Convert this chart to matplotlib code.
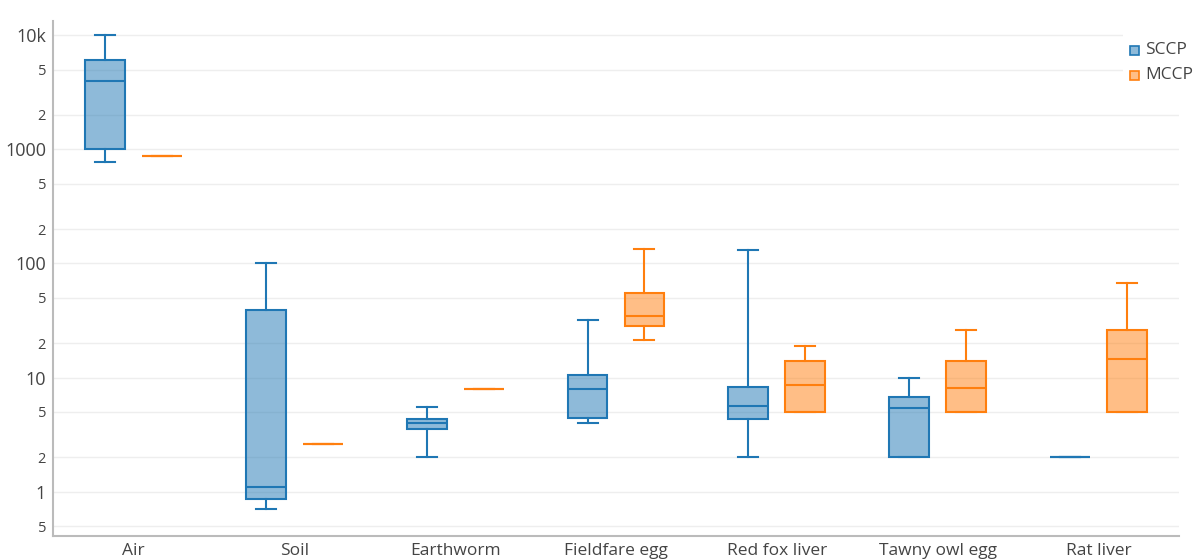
import matplotlib
matplotlib.use("Agg")
import matplotlib.pyplot as plt
from matplotlib.patches import Rectangle

plt.rcParams['font.family'] = ['Open Sans', 'DejaVu Sans']

categories = ["Air", "Soil", "Earthworm", "Fieldfare egg", "Red fox liver",
              "Tawny owl egg", "Rat liver"]

# Box statistics per category: lower whisker, Q1, median, Q3, upper whisker
sccp_low = [776, 0.706, 2.0, 4.02, 2.0, 2.0, 2.0]
sccp_q1 = [1000, 0.857, 3.51, 4.39, 4.31, 2.0, 2.0]
sccp_med = [3930, 1.1, 4.0, 7.93, 5.6, 5.37, 2.0]
sccp_q3 = [6100, 38.7, 4.36, 10.6, 8.26, 6.75, 2.0]
sccp_high = [10000, 100, 5.52, 32.1, 131, 10.0, 2.0]

mccp_low = [865, 2.62, 8.0, 21.2, 5.0, 5.0, 5.0]
mccp_q1 = [865, 2.62, 8.0, 28.1, 5.0, 5.0, 5.0]
mccp_med = [865, 2.62, 8.0, 34.6, 8.55, 8.04, 14.6]
mccp_q3 = [865, 2.62, 8.0, 55.3, 14.0, 14.1, 26.1]
mccp_high = [865, 2.62, 8.0, 133, 19.0, 26.1, 66.8]

series_names = ["SCCP", "MCCP"]
series_colors = ["#1f77b4", "#ff7f0e"]
series_fills = [(31/255, 119/255, 180/255, 0.5), (255/255, 127/255, 14/255, 0.5)]

ytick_vals = [0.5, 1, 2, 5, 10, 20, 50, 100, 200, 500, 1000, 2000, 5000, 10000]
ytick_labels = ["5", "1", "2", "5", "10", "2", "5", "100", "2", "5", "1000", "2", "5", "10k"]
major_labels = {1, 10, 100, 1000, 10000}

W, H = 1195, 560
fig = plt.figure(figsize=(W / 100, H / 100), dpi=100)
L, R, T, B = 53, 1179, 21, 536
ax = fig.add_axes([L / W, 1 - B / H, (R - L) / W, (B - T) / H])

box_w = 0.248
offset = 0.177
lw = 1.5

def make_stats(low, q1, med, q3, high):
    return [dict(whislo=a, q1=b, med=c, q3=d, whishi=e, fliers=[])
            for a, b, c, d, e in zip(low, q1, med, q3, high)]

groups = [
    make_stats(sccp_low, sccp_q1, sccp_med, sccp_q3, sccp_high),
    make_stats(mccp_low, mccp_q1, mccp_med, mccp_q3, mccp_high),
]

n = len(categories)
for k, stats in enumerate(groups):
    sign = -1 if k == 0 else 1
    pos = [i + sign * offset for i in range(n)]
    col = series_colors[k]
    ax.bxp(stats, positions=pos, widths=box_w, capwidths=box_w / 2,
           patch_artist=True, showfliers=False,
           boxprops=dict(facecolor=series_fills[k], edgecolor=col, linewidth=lw),
           medianprops=dict(color=col, linewidth=lw),
           whiskerprops=dict(color=col, linewidth=lw),
           capprops=dict(color=col, linewidth=lw),
           manage_ticks=False, zorder=3)

ax.set_yscale("log")
ax.set_ylim(10 ** -0.388, 10 ** 4.124)
ax.set_xlim(-0.5, n - 0.5)

ax.set_yticks(ytick_vals)
ax.set_yticklabels(ytick_labels)
ax.yaxis.set_minor_locator(matplotlib.ticker.NullLocator())
for lbl, v in zip(ax.get_yticklabels(), ytick_vals):
    lbl.set_fontsize(13 if v in major_labels else 10.5)
    lbl.set_color("#444444")

ax.set_xticks(range(n))
ax.set_xticklabels(categories, fontsize=12.5, color="#444444")
ax.tick_params(axis="both", length=0)
ax.tick_params(axis="y", pad=5)
ax.tick_params(axis="x", pad=5)

ax.grid(axis="y", color="#eeeeee", linewidth=1, zorder=0)
ax.set_axisbelow(True)
for s in ["top", "right"]:
    ax.spines[s].set_visible(False)
for s in ["left", "bottom"]:
    ax.spines[s].set_color("#bbbbbb")
    ax.spines[s].set_linewidth(1.5)

# Legend drawn in figure pixels on a white panel
leg = fig.add_axes([1123 / W, 1 - 92 / H, (W - 1123) / W, (92 - 28) / H])
leg.set_xlim(1123, W)
leg.set_ylim(92, 28)
leg.axis("off")
leg.add_patch(Rectangle((1123, 28), W - 1123, 64, facecolor="white", edgecolor="none"))
for k, name in enumerate(series_names):
    yc = 50 + k * 25
    leg.add_patch(Rectangle((1130, yc - 4.5), 9, 9, facecolor=series_fills[k],
                            edgecolor=series_colors[k], linewidth=1.2))
    leg.text(1145, yc, name, fontsize=12.5, color="#444444", va="center", ha="left")

fig.savefig("out.png", dpi=100)
